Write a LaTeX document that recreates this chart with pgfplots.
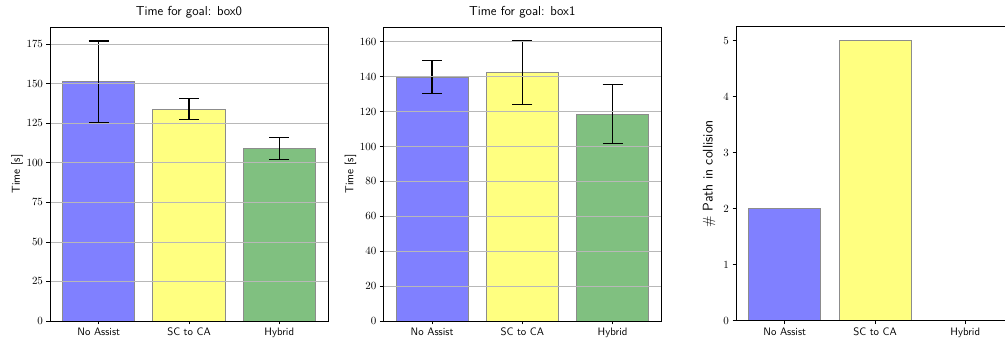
\documentclass[border=0pt]{standalone}
\usepackage{fontspec}
\usepackage{pgfplots}
\pgfplotsset{compat=1.18}

\definecolor{cNo}{HTML}{8080FF}
\definecolor{cSC}{HTML}{FFFF80}
\definecolor{cHy}{HTML}{80C080}
\definecolor{edge}{HTML}{8C8C8C}
\definecolor{gridc}{HTML}{B8B8B8}

\pgfplotsset{
  panel/.style={
    scale only axis, width=278pt, height=294pt, anchor=south west,
    xmin=-0.54, xmax=2.54, ymin=0,
    xtick={0,1,2}, xticklabels={No Assist, SC to CA, Hybrid},
    xtick pos=bottom, ytick pos=left, tick align=outside,
    major tick length=3.5pt,
    tick style={black, line width=0.8pt},
    axis line style={line width=0.8pt},
    ybar, bar width=0.8, bar shift=0pt,
    ticklabel style={font=\fontsize{10.8}{13}\selectfont},
    xticklabel style={font=\sffamily\fontsize{10.8}{13}\selectfont},
    title style={font=\sffamily\fontsize{13}{15}\selectfont, at={(0.5,1)}, anchor=base, yshift=5pt},
    every axis y label/.style={at={(axis description cs:-0.108,0.5)}, rotate=90, anchor=base,
      font=\sffamily\fontsize{11.5}{14}\selectfont},
    axis on top,
  },
  timegrid/.style={ymajorgrids, grid style={color=gridc, line width=0.8pt}},
  barstyle/.style={fill=#1, draw=edge, line width=0.8pt},
  errstyle/.style={error bars/.cd, y dir=both, y explicit,
    error bar style={black, line width=1.3pt},
    error mark options={rotate=90, black, mark size=10pt, line width=1.3pt}},
}

\begin{document}
\begin{tikzpicture}
\path[use as bounding box] (0pt,0pt) rectangle (1005pt,342pt);
\clip (0pt,0pt) rectangle (1005pt,342pt);

% goal box0
\begin{axis}[panel, timegrid, at={(50pt,21pt)}, ymax=185.9,
  ytick={0,25,50,75,100,125,150,175},
  title={Time for goal: box0}, ylabel={Time [s]}]
  \addplot[barstyle=cNo, errstyle] coordinates {(0,151.4) +- (0,25.7)};
  \addplot[barstyle=cSC, errstyle] coordinates {(1,134.0) +- (0,6.7)};
  \addplot[barstyle=cHy, errstyle] coordinates {(2,109.0) +- (0,7.0)};
\end{axis}

% goal box1
\begin{axis}[panel, timegrid, at={(383.3pt,21pt)}, ymax=168.5,
  ytick={0,20,40,60,80,100,120,140,160},
  title={Time for goal: box1}, ylabel={Time [s]}]
  \addplot[barstyle=cNo, errstyle] coordinates {(0,139.7) +- (0,9.4)};
  \addplot[barstyle=cSC, errstyle] coordinates {(1,142.3) +- (0,18.1)};
  \addplot[barstyle=cHy, errstyle] coordinates {(2,118.6) +- (0,16.9)};
\end{axis}

% collisions
\begin{axis}[panel, at={(736pt,21.3pt)}, ymax=5.25,
  ytick={0,1,2,3,4,5},
  ylabel={$\#$ Path in collision},
  every axis y label/.style={at={(axis description cs:-0.084,0.5)}, rotate=90, anchor=base,
      font=\sffamily\fontsize{14}{17}\selectfont}]
  \addplot[barstyle=cNo] coordinates {(0,2)};
  \addplot[barstyle=cSC] coordinates {(1,5)};
  \addplot[barstyle=cHy] coordinates {(2,0)};
\end{axis}
\end{tikzpicture}
\end{document}
